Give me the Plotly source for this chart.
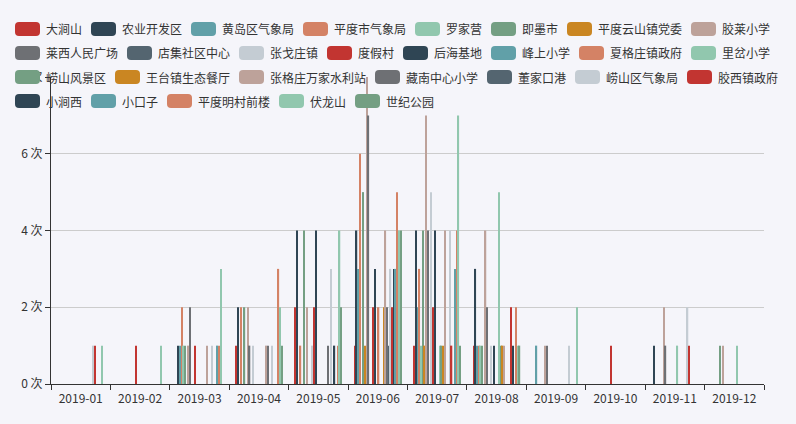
import plotly.graph_objects as go

months = ["2019-01", "2019-02", "2019-03", "2019-04", "2019-05", "2019-06",
          "2019-07", "2019-08", "2019-09", "2019-10", "2019-11", "2019-12"]

series_names = ["大涧山", "农业开发区", "黄岛区气象局", "平度市气象局", "罗家营", "即墨市",
                "平度云山镇党委", "胶莱小学", "莱西人民广场", "店集社区中心", "张戈庄镇", "度假村",
                "后海基地", "峰上小学", "夏格庄镇政府", "里岔小学", "崂山风景区", "王台镇生态餐厅",
                "张格庄万家水利站", "藏南中心小学", "董家口港", "崂山区气象局", "胶西镇政府", "小涧西",
                "小口子", "平度明村前楼", "伏龙山", "世纪公园"]

v00 = [0, 0, 0, 1, 2, 1, 1, 1, 0, 0, 0, 0]
v01 = [0, 0, 1, 2, 4, 4, 4, 3, 0, 0, 1, 0]
v02 = [0, 0, 1, 0, 0, 3, 2, 1, 1, 0, 0, 0]
v03 = [0, 0, 2, 2, 1, 6, 3, 1, 0, 0, 0, 0]
v04 = [0, 0, 1, 0, 0, 0, 1, 1, 0, 0, 0, 0]
v05 = [0, 0, 1, 2, 4, 5, 4, 1, 0, 0, 0, 1]
v06 = [0, 0, 0, 0, 0, 1, 1, 0, 0, 0, 0, 0]
v07 = [0, 0, 1, 2, 2, 8, 7, 4, 1, 0, 2, 1]
v08 = [0, 0, 2, 1, 0, 7, 4, 2, 1, 0, 1, 0]
v09 = [0, 0, 0, 0, 0, 0, 0, 0, 0, 0, 0, 0]
v10 = [0, 0, 0, 1, 1, 0, 5, 1, 0, 0, 0, 0]
v11 = [0, 1, 1, 0, 2, 2, 2, 0, 0, 1, 0, 0]
v12 = [0, 0, 0, 0, 4, 3, 4, 1, 0, 0, 0, 0]
v13 = [0, 0, 0, 0, 0, 0, 0, 0, 0, 0, 0, 0]
v14 = [0, 0, 0, 0, 0, 2, 0, 0, 0, 0, 0, 0]
v15 = [0, 0, 0, 0, 0, 0, 1, 5, 0, 0, 1, 1]
v16 = [0, 0, 0, 0, 0, 0, 1, 1, 0, 0, 0, 0]
v17 = [0, 0, 0, 0, 0, 2, 1, 1, 0, 0, 0, 0]
v18 = [0, 0, 1, 1, 0, 4, 4, 1, 0, 0, 0, 0]
v19 = [0, 0, 0, 1, 1, 2, 0, 0, 0, 0, 0, 0]
v20 = [0, 0, 0, 0, 0, 1, 0, 0, 0, 0, 0, 0]
v21 = [1, 0, 1, 1, 3, 3, 4, 0, 1, 0, 2, 0]
v22 = [1, 0, 0, 0, 0, 2, 1, 2, 0, 0, 1, 0]
v23 = [0, 0, 0, 0, 1, 3, 0, 1, 0, 0, 0, 0]
v24 = [0, 0, 1, 0, 0, 3, 3, 0, 0, 0, 0, 0]
v25 = [0, 0, 1, 3, 1, 5, 4, 2, 0, 0, 0, 0]
v26 = [1, 1, 3, 2, 4, 4, 7, 1, 2, 0, 0, 0]
v27 = [0, 0, 0, 1, 2, 4, 1, 1, 0, 0, 0, 0]

series_values = [v00, v01, v02, v03, v04, v05, v06, v07, v08, v09, v10, v11, v12, v13,
                 v14, v15, v16, v17, v18, v19, v20, v21, v22, v23, v24, v25, v26, v27]

y_ticks = [0, 2, 4, 6, 8]
y_unit = "次"

palette = ["#c23531", "#2f4554", "#61a0a8", "#d48265", "#91c7ae", "#749f83",
           "#ca8622", "#bda29a", "#6e7074", "#546570", "#c4ccd3"]

FONT = "Noto Sans CJK SC, Microsoft YaHei, sans-serif"
W, H = 796, 424
ML, MR, MT, MB = 51, 32, 77, 40
PW = W - ML - MR
PH = H - MT - MB

fig = go.Figure()
for i, (name, vals) in enumerate(zip(series_names, series_values)):
    fig.add_trace(go.Bar(
        x=months, y=vals, name=name,
        marker=dict(color=palette[i % len(palette)], line=dict(width=0)),
    ))


def px_x(px):
    return (px - ML) / PW


def px_y(py):
    return (MT + PH - py) / PH


def rounded_rect(x0, y0, x1, y1, r):
    pts = [
        ("M", x0 + r, y0), ("L", x1 - r, y0), ("Q", x1, y0, x1, y0 + r),
        ("L", x1, y1 - r), ("Q", x1, y1, x1 - r, y1), ("L", x0 + r, y1),
        ("Q", x0, y1, x0, y1 - r), ("L", x0, y0 + r), ("Q", x0, y0, x0 + r, y0),
    ]
    out = []
    for p in pts:
        cmd = p[0]
        coords = p[1:]
        s = []
        for k in range(0, len(coords), 2):
            s.append(f"{px_x(coords[k]):.5f},{px_y(coords[k + 1]):.5f}")
        out.append(cmd + " ".join(s))
    return " ".join(out) + " Z"


# custom legend (ECharts-like rounded icons)
shapes = []
annotations = []
icon_w, icon_h, gap_icon, item_gap, row_gap = 25, 14, 5, 10, 10
x = 15
y_top = 22
limit = 786
for i, name in enumerate(series_names):
    tw = 12 * len(name)
    item_w = icon_w + gap_icon + tw
    if x + item_w > limit and x > 15:
        x = 15
        y_top += icon_h + row_gap
    color = palette[i % len(palette)]
    shapes.append(dict(type="path", xref="paper", yref="paper",
                       path=rounded_rect(x, y_top, x + icon_w, y_top + icon_h, 4),
                       fillcolor=color, line=dict(width=0), layer="above"))
    annotations.append(dict(xref="paper", yref="paper", x=px_x(x + icon_w + gap_icon),
                            y=px_y(y_top + icon_h / 2), text=name, showarrow=False,
                            xanchor="left", yanchor="middle", borderpad=0,
                            font=dict(family=FONT, size=12, color="#333")))
    x += item_w + item_gap

fig.update_layout(
    width=W, height=H,
    margin=dict(l=ML, r=MR, t=MT, b=MB),
    paper_bgcolor="#f5f5fa", plot_bgcolor="#f5f5fa",
    barmode="group", bargap=0.2, bargroupgap=0.23,
    showlegend=False,
    font=dict(family=FONT, size=12, color="#333"),
    shapes=shapes, annotations=annotations,
)
fig.update_xaxes(
    type="category", tickson="boundaries", ticks="outside", ticklen=5,
    tickcolor="#333", showline=True, linecolor="#333", linewidth=1,
    showgrid=False, ticklabelstandoff=4,
    tickfont=dict(family=FONT, size=12, color="#333"),
)
fig.update_yaxes(
    range=[0, 8], tickmode="array", tickvals=y_ticks,
    ticktext=[f"{v} {y_unit}" for v in y_ticks],
    ticks="outside", ticklen=5,
    tickcolor="#333", showline=True, linecolor="#333", linewidth=1,
    showgrid=True, gridcolor="#cccccc", gridwidth=1, zeroline=False,
    tickfont=dict(family=FONT, size=12, color="#333"),
)

fig.write_html("out.html", config={"displayModeBar": False},
               post_script="document.body.style.margin='0';document.body.style.overflow='hidden';")
